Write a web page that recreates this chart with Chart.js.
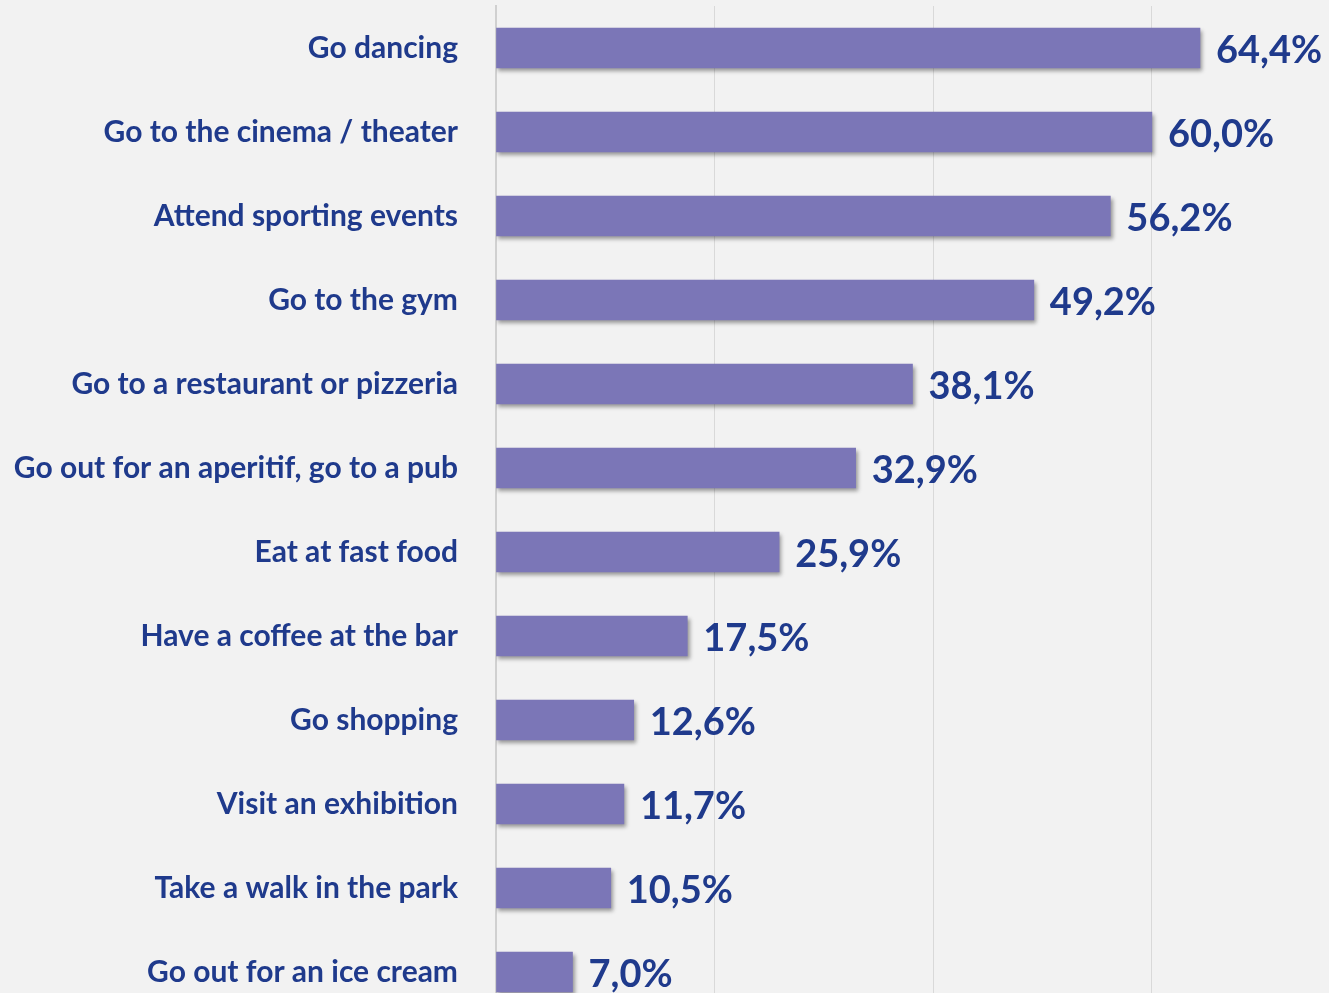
<!DOCTYPE html>
<html>
<head>
<meta charset="utf-8">
<script src="https://cdn.jsdelivr.net/npm/chart.js@4/dist/chart.umd.min.js"></script>
<style>
  html, body { margin: 0; padding: 0; background: #f2f2f2; overflow: hidden; }
  canvas { display: block; }
</style>
</head>
<body>
<canvas id="leisureChart" width="1329" height="1014"></canvas>
<script>
// Activities and share of respondents (%)
const activities = [
    'Go dancing',
    'Go to the cinema / theater',
    'Attend sporting events',
    'Go to the gym',
    'Go to a restaurant or pizzeria',
    'Go out for an aperitif, go to a pub',
    'Eat at fast food',
    'Have a coffee at the bar',
    'Go shopping',
    'Visit an exhibition',
    'Take a walk in the park',
    'Go out for an ice cream'
];
const shares = [64.4, 60.0, 56.2, 49.2, 38.1, 32.9, 25.9, 17.5, 12.6, 11.7, 10.5, 7.0];
const gridTicks = [0, 20, 40, 60];

const TEXT_COLOR = '#1f3a8c';
const BAR_COLOR = '#7b76b7';

const formatShare = v => v.toFixed(1).replace('.', ',') + '%';

// soft drop shadow under the bars
const barShadow = {
    id: 'barShadow',
    beforeDatasetDraw(chart) {
        const ctx = chart.ctx;
        ctx.save();
        ctx.shadowColor = 'rgba(0, 0, 0, 0.38)';
        ctx.shadowBlur = 4;
        ctx.shadowOffsetX = 2;
        ctx.shadowOffsetY = 3;
    },
    afterDatasetDraw(chart) {
        chart.ctx.restore();
    }
};

// value labels at the end of each bar
const valueLabels = {
    id: 'valueLabels',
    afterDatasetsDraw(chart) {
        const ctx = chart.ctx;
        const meta = chart.getDatasetMeta(0);
        ctx.save();
        ctx.font = 'bold 38px Lato';
        ctx.fillStyle = TEXT_COLOR;
        ctx.textAlign = 'left';
        ctx.textBaseline = 'middle';
        meta.data.forEach((bar, i) => {
            ctx.fillText(formatShare(shares[i]), bar.x + 16, bar.y + 3);
        });
        ctx.restore();
    }
};

const ctx = document.getElementById('leisureChart');

new Chart(ctx, {
    type: 'bar',
    data: {
        labels: activities,
        datasets: [{
            data: shares,
            backgroundColor: BAR_COLOR,
            borderWidth: 0,
            barThickness: 40
        }]
    },
    options: {
        indexAxis: 'y',
        responsive: false,
        animation: false,
        layout: { padding: { top: 6, right: 0, bottom: 0, left: 0 } },
        plugins: {
            legend: { display: false },
            tooltip: { enabled: false }
        },
        scales: {
            x: {
                min: 0,
                max: 76.2,
                afterBuildTicks(scale) {
                    scale.ticks = gridTicks.map(v => ({ value: v }));
                },
                afterFit(scale) {
                    scale.height = 0;
                },
                ticks: { display: false },
                grid: {
                    color: '#d9d9d9',
                    lineWidth: 1,
                    drawTicks: false
                },
                border: { display: false }
            },
            y: {
                afterFit(scale) {
                    scale.width = 496;
                    scale.paddingTop = 0;
                    scale.paddingBottom = 0;
                },
                ticks: {
                    color: TEXT_COLOR,
                    font: { family: 'Lato', weight: 'bold', size: 30 },
                    padding: 38
                },
                grid: { display: false, drawTicks: false },
                border: { display: true, color: '#d0d0d0', width: 2 }
            }
        }
    },
    plugins: [barShadow, valueLabels]
});
</script>
</body>
</html>
